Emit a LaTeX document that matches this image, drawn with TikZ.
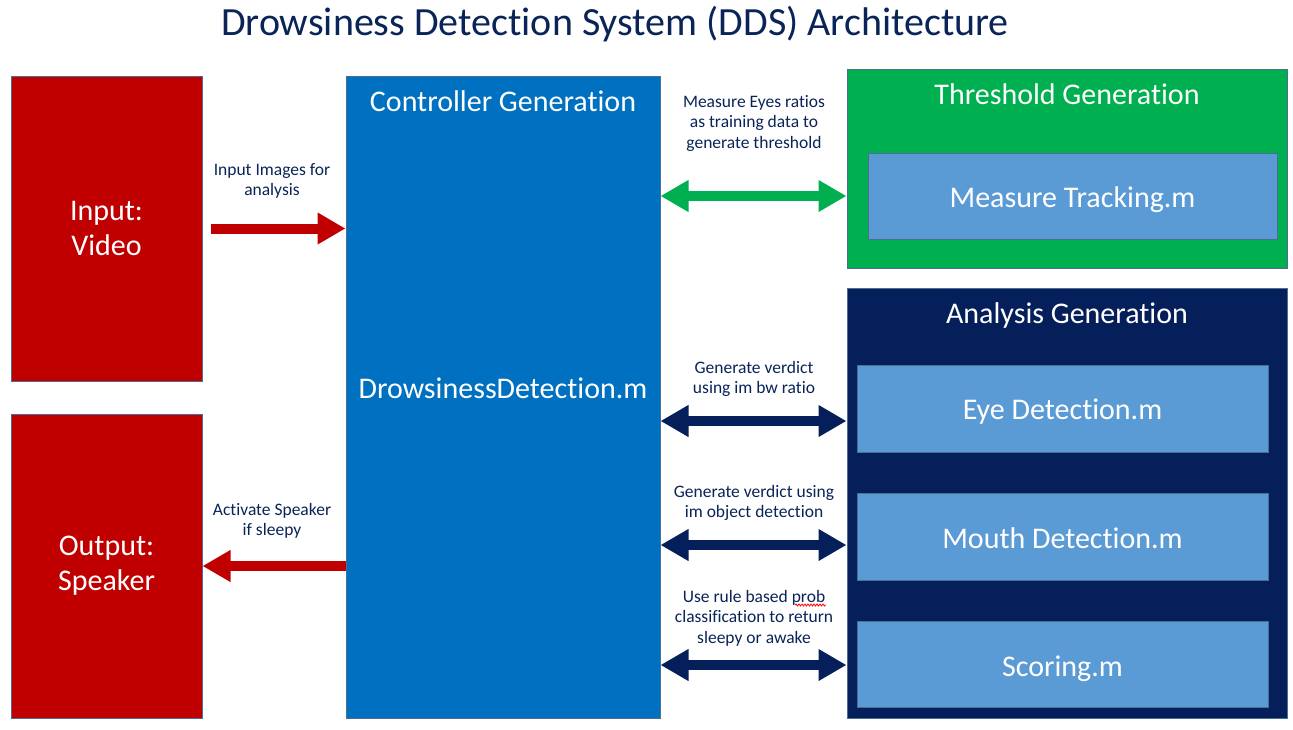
\documentclass[tikz,border=0pt]{standalone}
\usepackage{fontspec}
\setmainfont{Carlito}[Ligatures={NoCommon,NoRare,NoContextual}, Contextuals=NoAlternate]
\usetikzlibrary{arrows.meta,decorations.pathmorphing}
\definecolor{ddsred}{HTML}{C00000}
\definecolor{ddsblue}{HTML}{0070C0}
\definecolor{ddsgreen}{HTML}{00B050}
\definecolor{ddsnavy}{HTML}{051F5A}
\definecolor{ddslight}{HTML}{5B9BD5}
\definecolor{ddsedge}{HTML}{4A6E94}
\definecolor{ddstext}{HTML}{0A2458}
\tikzset{
  box/.style={draw=ddsedge, line width=1pt, inner sep=0pt, text=white, align=center},
  bigtext/.style={font=\fontsize{30}{35}\selectfont},
  headtext/.style={text=white, inner sep=0pt, anchor=base, font=\fontsize{30}{35}\selectfont},
  lbl/.style={text=ddstext, align=center, inner sep=0pt, font=\fontsize{17.5}{20.5}\selectfont},
  redarrow/.style={ddsred, line width=10pt, -{Triangle[length=28pt,width=30pt]}},
  greenarrow/.style={ddsgreen, line width=10pt, {Triangle[length=28pt,width=30pt]}-{Triangle[length=28pt,width=30pt]}},
  navyarrow/.style={ddsnavy, line width=10pt, {Triangle[length=28pt,width=30pt]}-{Triangle[length=28pt,width=30pt]}},
}
\begin{document}
\begin{tikzpicture}[x=1pt,y=-1pt]
\useasboundingbox (0,0) rectangle (1293,729);
\fill[white] (0,0) rectangle (1293,729);

\node[text=ddstext, inner sep=0pt, anchor=base, font=\fontsize{40}{44}\selectfont] (title) at (615,35) {Drowsiness Detection System (DDS) Architecture};

\node[box, fill=ddsred, bigtext, minimum width=191pt, minimum height=305pt] (in) at (106.5,228.5) {Input:\\Video};
\node[box, fill=ddsred, bigtext, minimum width=191pt, minimum height=304pt] (out) at (106.5,566) {Output:\\Speaker};

\node[box, fill=ddsblue, minimum width=314pt, minimum height=642pt] (ctrl) at (503,397) {};
\node[headtext] (ctrlhead) at (503,111) {Controller Generation};
\node[headtext] (ctrlmain) at (503,398) {DrowsinessDetection.m};

\node[box, fill=ddsgreen, minimum width=440pt, minimum height=199pt] (thr) at (1067,168.5) {};
\node[headtext] (thrhead) at (1067,104) {Threshold Generation};
\node[box, fill=ddslight, minimum width=409pt, minimum height=86pt] (mt) at (1072.5,196) {};
\node[headtext] (mtt) at (1072.5,207) {Measure Tracking.m};

\node[box, fill=ddsnavy, minimum width=440pt, minimum height=430pt] (ana) at (1067,503) {};
\node[headtext] (anahead) at (1067,323) {Analysis Generation};
\node[box, fill=ddslight, minimum width=411pt, minimum height=87pt] (eye) at (1062.5,408.5) {};
\node[headtext] (eyet) at (1062.5,419) {Eye Detection.m};
\node[box, fill=ddslight, minimum width=411pt, minimum height=87pt] (mouth) at (1062.5,536.5) {};
\node[headtext] (moutht) at (1062.5,548) {Mouth Detection.m};
\node[box, fill=ddslight, minimum width=411pt, minimum height=86pt] (score) at (1062.5,664) {};
\node[headtext] (scoret) at (1062.5,676) {Scoring.m};

% arrows
\coordinate (inA) at ([xshift=8pt]in.east);
\draw[redarrow] (inA) -- (ctrl.west|-inA);
\draw[redarrow] (ctrl.west|-out.east) -- (out.east);
\draw[greenarrow] (ctrl.east|-mt.west) -- (thr.west|-mt.west);
\coordinate (eyeA) at ([yshift=-12.5pt]eye.west);
\coordinate (mouthA) at ([yshift=-8.5pt]mouth.west);
\coordinate (scoreA) at ([yshift=-1pt]score.west);
\draw[navyarrow] (ctrl.east|-eyeA) -- (ana.west|-eyeA);
\draw[navyarrow] (ctrl.east|-mouthA) -- (ana.west|-mouthA);
\draw[navyarrow] (ctrl.east|-scoreA) -- (ana.west|-scoreA);

% labels
\node[lbl] (l1) at (272,181) {Input Images for\\analysis};
\node[lbl] (l2) at (272,521) {Activate Speaker\\if sleepy};
\node[lbl] (l3) at (754,123) {Measure Eyes ratios\\as training data to\\generate threshold};
\node[lbl] (l4) at (754,379) {Generate verdict\\using im bw ratio};
\node[lbl] (l5) at (754,503) {Generate verdict using\\im object detection};
\node[lbl] (l6) at (754,618) {Use rule based prob\\classification to return\\sleepy or awake};
\coordinate (sqA) at ([shift={(41pt,13pt)}]l6.center);
\coordinate (sqB) at ([shift={(72pt,13pt)}]l6.center);
\draw[red, line width=0.8pt, decorate, decoration={snake, amplitude=1pt, segment length=3pt}] (sqA) -- (sqB);
\end{tikzpicture}
\end{document}
